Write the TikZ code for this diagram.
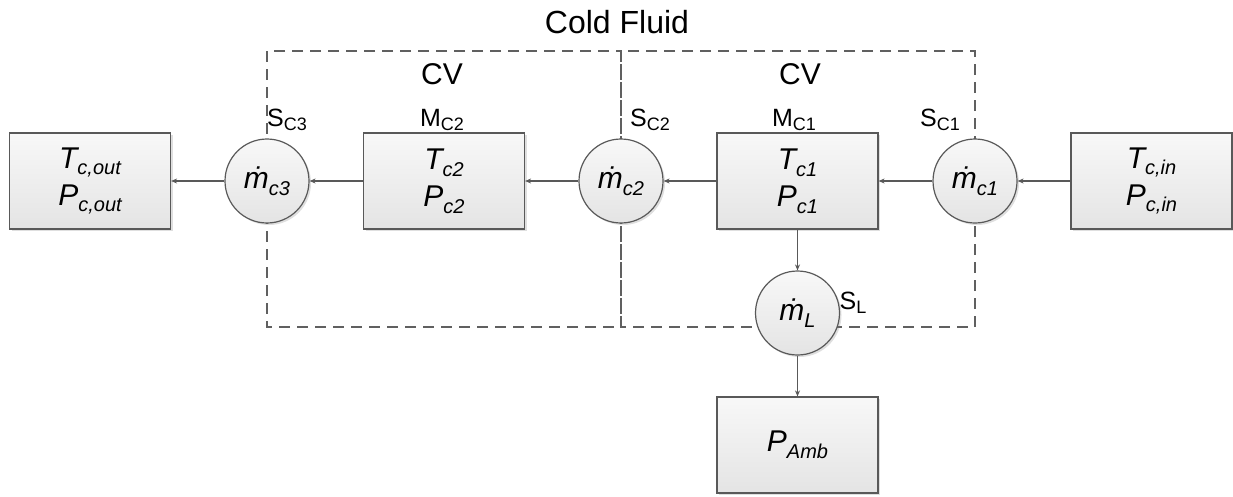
\documentclass[tikz,border=0pt]{standalone}
\usepackage{fontspec}
\setmainfont{Liberation Sans}
\usetikzlibrary{arrows.meta,shadows,backgrounds}
\definecolor{edgec}{RGB}{89,89,89}
\definecolor{dashc}{RGB}{96,96,96}
\definecolor{ftop}{RGB}{248,248,248}
\definecolor{fbot}{RGB}{228,228,228}
\newcommand{\lsub}[1]{\raisebox{-0.22em}{\fontsize{20}{20}\selectfont #1}}
\newcommand{\ssub}[1]{\raisebox{-0.18em}{\fontsize{18}{18}\selectfont #1}}
\begin{document}
\begin{tikzpicture}[x=1pt,y=-1pt,
 blk/.style={draw=edgec, line width=1.2pt, top color=ftop, bottom color=fbot,
   minimum width=161pt, minimum height=96pt, inner sep=0pt, align=center,
   font=\fontsize{30}{37}\selectfont\itshape,
   drop shadow={shadow xshift=2pt, shadow yshift=-2pt, opacity=0.25}},
 flow/.style={circle, draw=edgec, line width=1.2pt, top color=ftop, bottom color=fbot,
   minimum size=84pt, inner sep=0pt, font=\fontsize{30}{37}\selectfont\itshape,
   drop shadow={shadow xshift=2pt, shadow yshift=-2pt, opacity=0.25}},
 lbl/.style={font=\fontsize{25}{25}\selectfont, inner sep=0pt},
 conn/.style={draw=edgec, line width=1.1pt, -{Stealth[length=6pt,width=5pt]}},
 cv/.style={draw=dashc, line width=1.5pt, dash pattern=on 11pt off 7pt}]
\useasboundingbox (0,0) rectangle (1233,496);

\node[blk] (out) at (90,181) {T\lsub{c,out}\\P\lsub{c,out}};
\node[flow] (c3) at (267,181) {\.{m}\lsub{c3}};
\node[blk] (b2) at (444,181) {T\lsub{c2}\\P\lsub{c2}};
\node[flow] (c2) at (621,181) {\.{m}\lsub{c2}};
\node[blk] (b1) at (797.5,181) {T\lsub{c1}\\P\lsub{c1}};
\node[flow] (c1) at (975,181) {\.{m}\lsub{c1}};
\node[blk] (in) at (1151.5,181) {T\lsub{c,in}\\P\lsub{c,in}};
\node[flow] (L) at (797.5,313) {\.{m}\lsub{L}};
\node[blk] (amb) at (797.5,445) {P\lsub{Amb}};

\node[font=\fontsize{32}{32}\selectfont, inner sep=0pt] (title) at (617,22) {Cold Fluid};
\node[font=\fontsize{30}{30}\selectfont, inner sep=0pt] (cv1) at (442,74) {CV};
\node[font=\fontsize{30}{30}\selectfont, inner sep=0pt] (cv2) at (800,74) {CV};
\node[lbl] (s3) at (287,120) {S\ssub{C3}};
\node[lbl] (m2) at (442,120) {M\ssub{C2}};
\node[lbl] (s2) at (650,120) {S\ssub{C2}};
\node[lbl] (m1) at (794,120) {M\ssub{C1}};
\node[lbl] (s1) at (940,120) {S\ssub{C1}};
\node[lbl] (sl) at (853,303) {S\ssub{L}};

\draw[conn] (in) -- (c1);
\draw[conn] (c1) -- (b1);
\draw[conn] (b1) -- (c2);
\draw[conn] (c2) -- (b2);
\draw[conn] (b2) -- (c3);
\draw[conn] (c3) -- (out);
\draw[conn] (b1) -- (L);
\draw[conn] (L) -- (amb);

\coordinate (topl) at (0,51);
\coordinate (botl) at (0,327);
\begin{scope}[on background layer]
\draw[cv] (c3.center |- topl) rectangle (c2.center |- botl);
\draw[cv] (c2.center |- topl) rectangle (c1.center |- botl);
\end{scope}
\end{tikzpicture}
\end{document}
